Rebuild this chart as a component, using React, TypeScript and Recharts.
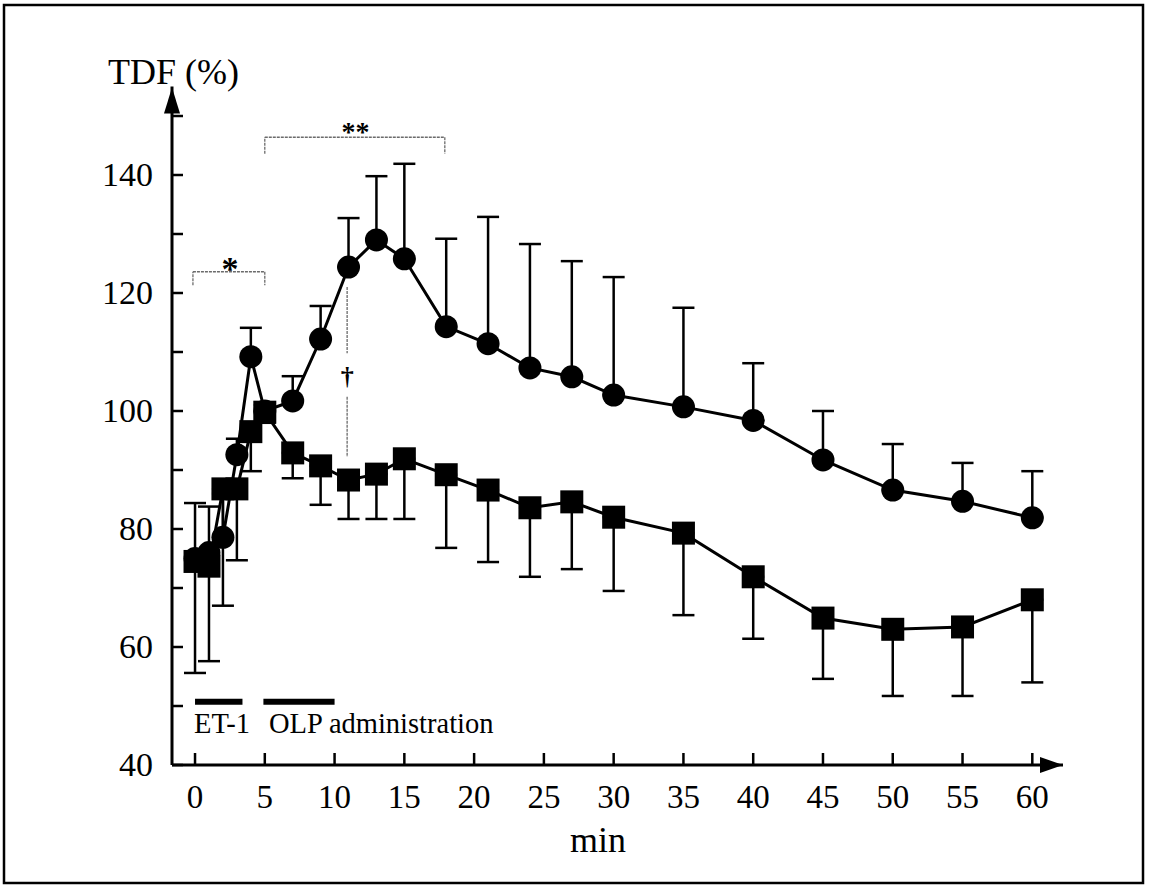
import {
  ComposedChart,
  ErrorBar,
  Line,
  ReferenceDot,
  ReferenceLine,
  XAxis,
  YAxis,
} from "recharts";

// minutes after start
const TIME = [0, 1, 2, 3, 4, 5, 7, 9, 11, 13, 15, 18, 21, 24, 27, 30, 35, 40, 45, 50, 55, 60];

// circles: TDF (%) mean and upper SEM
const CIRCLE_MEAN = [75, 76, 78.6, 92.6, 109.2, 100, 101.7, 112.2, 124.4, 129, 125.8, 114.3, 111.4, 107.3, 105.8, 102.7, 100.7, 98.4, 91.7, 86.6, 84.7, 81.9];
const CIRCLE_SEM = [9.4, 7.8, 7.4, 2.7, 4.9, 1, 4.2, 5.6, 8.3, 10.8, 16.1, 14.9, 21.5, 21, 19.6, 20, 16.8, 9.7, 8.3, 7.8, 6.5, 7.9];

// squares: TDF (%) mean and lower SEM
const SQUARE_MEAN = [74.5, 73.7, 86.8, 86.8, 96.5, 99.8, 92.9, 90.7, 88.3, 89.3, 91.9, 89.2, 86.6, 83.6, 84.6, 82, 79.3, 71.9, 64.9, 63, 63.4, 68];
const SQUARE_SEM = [18.9, 16.1, 19.8, 12.1, 6.7, 1.8, 4.3, 6.6, 6.6, 7.6, 10.2, 12.4, 12.2, 11.7, 11.4, 12.5, 13.9, 10.5, 10.3, 11.3, 11.7, 14];

const X_TICKS = [0, 5, 10, 15, 20, 25, 30, 35, 40, 45, 50, 55, 60];
const Y_TICKS = [40, 50, 60, 70, 80, 90, 100, 110, 120, 130, 140, 150];
const Y_LABELS = [40, 60, 80, 100, 120, 140];

const data = TIME.map((t, i) => ({
  t,
  circle: CIRCLE_MEAN[i],
  circleErr: [0, CIRCLE_SEM[i]],
  square: SQUARE_MEAN[i],
  squareErr: [SQUARE_SEM[i], 0],
}));

const FONT = "'Liberation Serif', 'Times New Roman', serif";
const thin = { stroke: "#6b6b6b", strokeWidth: 1.3, strokeDasharray: "3 1" };

function YTick({ x, y, payload }: any) {
  const v = payload.value;
  return (
    <g>
      <line x1={x} x2={x + 11} y1={y} y2={y} stroke="#000" strokeWidth={2.5} />
      {Y_LABELS.includes(v) && (
        <text x={x - 19} y={y + 11} textAnchor="end" fontSize={34} fontFamily={FONT} fill="#000">
          {v}
        </text>
      )}
    </g>
  );
}

function XTick({ x, y, payload }: any) {
  return (
    <g>
      <line x1={x} x2={x} y1={y} y2={y - 12} stroke="#000" strokeWidth={2.5} />
      <text x={x} y={y + 43} textAnchor="middle" fontSize={33} fontFamily={FONT} fill="#000">
        {payload.value}
      </text>
    </g>
  );
}

function textShape(str: string, size: number, dx: number, dy: number, anchor = "middle", weight = "normal") {
  return (p: any) => (
    <text
      x={p.cx + dx}
      y={p.cy + dy}
      textAnchor={anchor}
      fontSize={size}
      fontWeight={weight}
      fontFamily={FONT}
      fill="#000"
    >
      {str}
    </text>
  );
}

export default function App() {
  return (
    <div style={{ position: "absolute", left: 0, top: 0, width: 1150, height: 890, background: "#fff" }}>
      <ComposedChart
        width={1150}
        height={890}
        data={data}
        margin={{ top: 86.5, right: 87, bottom: 95, left: 0 }}
      >
        <XAxis
          type="number"
          dataKey="t"
          domain={[-1.65, 62.2]}
          ticks={X_TICKS}
          height={30}
          tickSize={0}
          tickMargin={0}
          tickLine={false}
          tick={<XTick />}
          axisLine={{ stroke: "#000", strokeWidth: 3 }}
          interval={0}
        />
        <YAxis
          type="number"
          domain={[40, 155]}
          ticks={Y_TICKS}
          width={172}
          tickSize={0}
          tickMargin={0}
          tickLine={false}
          tick={<YTick />}
          axisLine={{ stroke: "#000", strokeWidth: 3 }}
          interval={0}
        />

        {/* significance brackets */}
        <ReferenceLine segment={[{ x: -0.15, y: 121.3 }, { x: -0.15, y: 123.6 }]} {...thin} />
        <ReferenceLine segment={[{ x: -0.15, y: 123.6 }, { x: 5, y: 123.6 }]} {...thin} />
        <ReferenceLine segment={[{ x: 5, y: 123.6 }, { x: 5, y: 121.3 }]} {...thin} />
        <ReferenceDot x={2.5} y={125.3} r={0} ifOverflow="visible" shape={textShape("*", 34, 0, 18, "middle", "bold")} />

        <ReferenceLine segment={[{ x: 5, y: 143.6 }, { x: 5, y: 146.4 }]} {...thin} />
        <ReferenceLine segment={[{ x: 5, y: 146.4 }, { x: 17.9, y: 146.4 }]} {...thin} />
        <ReferenceLine segment={[{ x: 17.9, y: 146.4 }, { x: 17.9, y: 143.6 }]} {...thin} />
        <ReferenceDot x={11.5} y={148.5} r={0} ifOverflow="visible" shape={textShape("**", 28, 0, 16, "middle", "bold")} />

        <ReferenceLine segment={[{ x: 10.9, y: 121 }, { x: 10.9, y: 109.8 }]} {...thin} />
        <ReferenceLine segment={[{ x: 10.9, y: 102.4 }, { x: 10.9, y: 92.2 }]} {...thin} />
        <ReferenceDot x={10.9} y={105.8} r={0} ifOverflow="visible" shape={textShape("†", 26, 0, 8, "middle", "bold")} />

        {/* administration periods */}
        <ReferenceLine segment={[{ x: 0, y: 50.7 }, { x: 3.4, y: 50.7 }]} stroke="#000" strokeWidth={6} />
        <ReferenceLine segment={[{ x: 4.9, y: 50.7 }, { x: 10, y: 50.7 }]} stroke="#000" strokeWidth={6} />
        <ReferenceDot x={0} y={45.4} r={0} ifOverflow="visible" shape={textShape("ET-1", 28.5, -1, 0, "start")} />
        <ReferenceDot x={5.3} y={45.4} r={0} ifOverflow="visible" shape={textShape("OLP administration", 28.5, 0, 0, "start")} />

        {/* axis arrows */}
        <ReferenceDot
          x={62.2}
          y={40}
          r={0}
          ifOverflow="visible"
          shape={(p: any) => (
            <polygon points={`${p.cx},${p.cy} ${p.cx - 23},${p.cy - 8} ${p.cx - 23},${p.cy + 8}`} fill="#000" />
          )}
        />
        <ReferenceDot
          x={-1.65}
          y={155}
          r={0}
          ifOverflow="visible"
          shape={(p: any) => (
            <polygon points={`${p.cx},${p.cy + 1} ${p.cx - 8},${p.cy + 27} ${p.cx + 8},${p.cy + 27}`} fill="#000" />
          )}
        />

        <Line
          dataKey="square"
          stroke="#000"
          strokeWidth={3}
          isAnimationActive={false}
          dot={(p: any) => (
            <rect key={`sq-${p.index}`} x={p.cx - 11.5} y={p.cy - 11.5} width={23} height={23} fill="#000" />
          )}
        >
          <ErrorBar dataKey="squareErr" direction="y" width={11} stroke="#000" strokeWidth={2.5} />
        </Line>
        <Line
          dataKey="circle"
          stroke="#000"
          strokeWidth={3}
          isAnimationActive={false}
          dot={(p: any) => <circle key={`ci-${p.index}`} cx={p.cx} cy={p.cy} r={11.5} fill="#000" />}
        >
          <ErrorBar dataKey="circleErr" direction="y" width={11} stroke="#000" strokeWidth={2.5} />
        </Line>
      </ComposedChart>

      <svg width={1150} height={890} style={{ position: "absolute", left: 0, top: 0, pointerEvents: "none" }}>
        <rect x={4} y={5} width={1139} height={878} fill="none" stroke="#000" strokeWidth={2.5} />
        <text x={108} y={84} fontSize={36} fontFamily={FONT} fill="#000">
          TDF (%)
        </text>
        <text x={598} y={852} textAnchor="middle" fontSize={36} fontFamily={FONT} fill="#000">
          min
        </text>
      </svg>
    </div>
  );
}
